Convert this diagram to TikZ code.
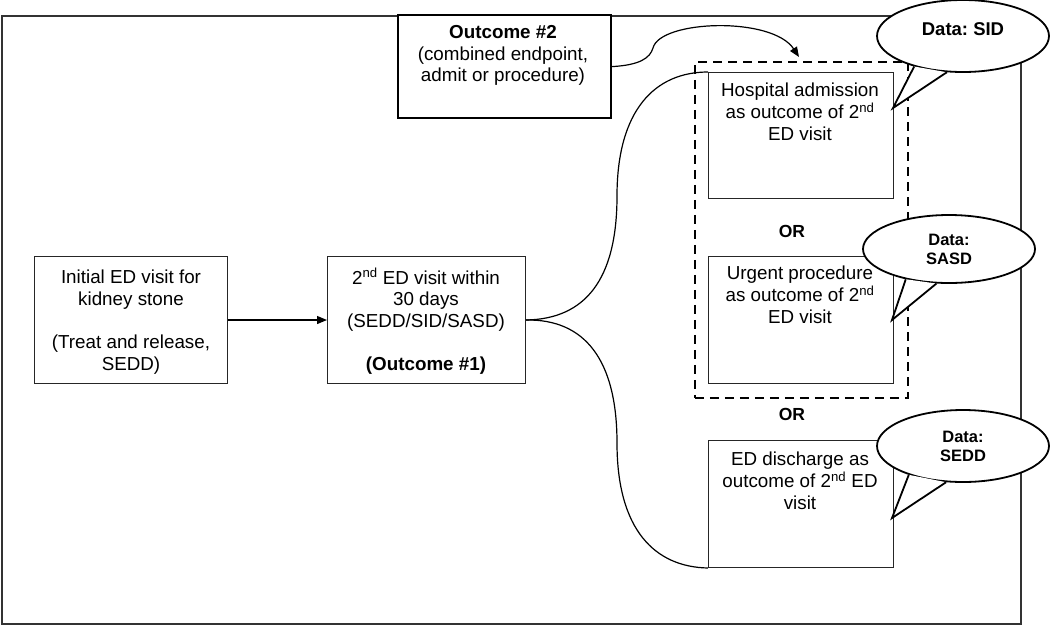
\documentclass[tikz,border=0pt]{standalone}
\usepackage{fontspec}
\setmainfont{Liberation Sans}
\usetikzlibrary{arrows.meta,shapes.geometric}
\frenchspacing
\begin{document}
\begin{tikzpicture}[x=1pt,y=-1pt,
  box/.style={draw=black!85, line width=1pt, inner sep=0pt, anchor=north west},
  txt/.style={align=center, inner sep=0pt, anchor=north, font=\fontsize{18.8}{21.7}\selectfont},
  ortxt/.style={inner sep=0pt, font=\fontsize{17.5}{20}\selectfont\bfseries},
  ctxt/.style={align=center, inner sep=0pt, font=\fontsize{16.5}{19}\selectfont\bfseries},
  bubble/.style={ellipse, draw=black, fill=white, line width=1.8pt, inner sep=0pt},
  pointer/.style={line width=1.8pt, line join=miter},
  link/.style={line width=1.2pt},
  arr/.style={line width=1.2pt, -{Triangle[length=10pt,width=8pt]}},
  grpbox/.style={draw=black, line width=1.6pt, dash pattern=on 9pt off 6pt, inner sep=0pt, anchor=north west},
]
\useasboundingbox (0,0) rectangle (1050,625);
% outer frame
\node[draw=black!80, line width=1.5pt, inner sep=0pt, anchor=north west,
      minimum width=1019, minimum height=608] (frame) at (1,15) {};

% main boxes
\node[box, minimum width=193, minimum height=127] (b1) at (34,256) {};
\node[txt] (t1) at (131,270) {Initial ED visit for\\kidney stone\\[21.7pt](Treat and release,\\SEDD)};

\node[box, minimum width=198, minimum height=127] (b2) at (327,256) {};
\node[txt] (t2) at (426,268) {2\textsuperscript{nd} ED visit within\\30 days\\(SEDD/SID/SASD)\\[21.7pt]\textbf{(Outcome \#1)}};

% dashed group
\node[grpbox, minimum width=213, minimum height=336] (grp) at (694,61) {};

% outcome boxes
\node[box, minimum width=185, minimum height=126] (h) at (708,72) {};
\node[txt] (ht) at (800,83) {Hospital admission\\as outcome of 2\textsuperscript{nd}\\ED visit};

\node[box, minimum width=185, minimum height=127] (u) at (708,256) {};
\node[txt] (ut) at (800,266) {Urgent procedure\\as outcome of 2\textsuperscript{nd}\\ED visit};

\node[box, minimum width=185, minimum height=127] (d) at (708,440) {};
\node[txt] (dt) at (800,452) {ED discharge as\\outcome of 2\textsuperscript{nd} ED\\visit};

\node[ortxt] (or1) at (792,231) {OR};
\node[ortxt] (or2) at (792,414) {OR};

% outcome #2 box
\node[box, draw=black, line width=2.2pt, fill=white, minimum width=213, minimum height=103] (o2) at (397,14) {};
\node[txt] (o2t) at (503,25) {\textbf{Outcome \#2}\\(combined endpoint,\\admit or procedure)};

% connectors
\draw[arr] (b1.east) -- (b2.west);
\draw[link] (b2.east) .. controls (585,319) and (617,280) .. (617,196)
            .. controls (617,110) and (655,72) .. (h.north west);
\draw[link] (b2.east) .. controls (585,319) and (617,360) .. (617,443)
            .. controls (617,530) and (655,567) .. (d.south west);
\coordinate (o2tip) at (799,57);
\draw[arr] (o2.east) .. controls (640,65) and (650,58) .. (653,48)
           .. controls (660,20) and (772,16) .. (o2tip);

% callouts
\node[bubble, minimum width=172, minimum height=72] (c1) at (963,36) {};
\coordinate (p1) at (893,108);
\fill[white] (c1.212) -- (p1) -- (c1.246) -- cycle;
\draw[pointer] (c1.212) -- (p1) -- (c1.246);
\node[ctxt, font=\fontsize{18.5}{21}\selectfont\bfseries] (c1t) at (963,29) {Data: SID};

\node[bubble, minimum width=172, minimum height=68] (c2) at (949,249) {};
\coordinate (p2) at (892,320);
\fill[white] (c2.215) -- (p2) -- (c2.250) -- cycle;
\draw[pointer] (c2.215) -- (p2) -- (c2.250);
\node[ctxt] (c2t) at (949,249.5) {Data:\\SASD};

\node[bubble, minimum width=172, minimum height=72] (c3) at (963,446) {};
\coordinate (p3) at (892,518);
\fill[white] (c3.208) -- (p3) -- (c3.245) -- cycle;
\draw[pointer] (c3.208) -- (p3) -- (c3.245);
\node[ctxt] (c3t) at (963,446.5) {Data:\\SEDD};
\end{tikzpicture}
\end{document}
